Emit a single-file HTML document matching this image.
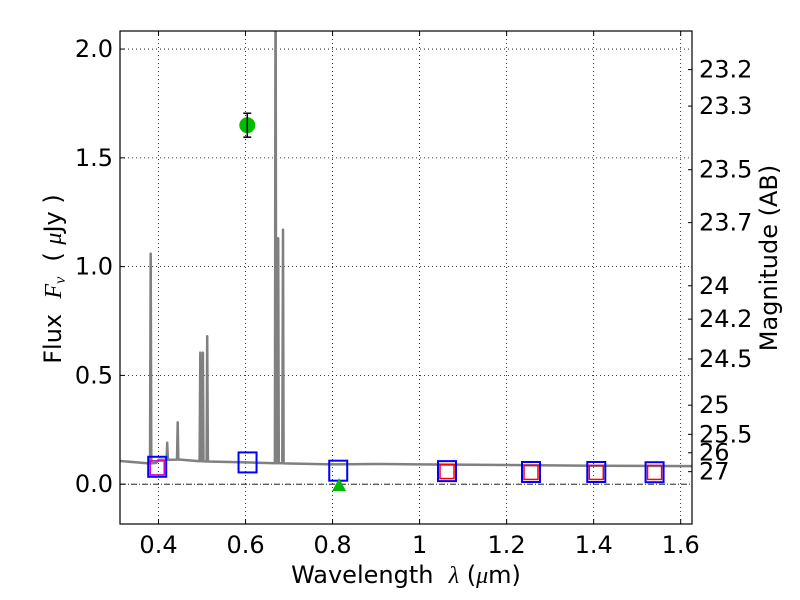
<!DOCTYPE html>
<html><head><meta charset="utf-8"><style>
body{margin:0;background:#fff;}
svg{display:block;font-family:"DejaVu Sans","Liberation Sans",sans-serif;}
</style></head><body>
<svg id="c" width="800" height="600" viewBox="0 0 800 600"></svg>
<script>
const xTicks=[0.4,0.6,0.8,1.0,1.2,1.4,1.6];
const xTickLabels=["0.4","0.6","0.8","1","1.2","1.4","1.6"];
const yTicks=[0,0.5,1.0,1.5,2.0];
const yTickLabels=["0.0","0.5","1.0","1.5","2.0"];
const magTicks=[23.2,23.3,23.5,23.7,24,24.2,24.5,25,25.5,26,27];
const magLabels=["23.2","23.3","23.5","23.7","24","24.2","24.5","25","25.5","26","27"];
const contWave=[0.31,0.35,0.38,0.395,0.40,0.45,0.5,0.6,0.7,0.8,0.9,1.0,1.2,1.4,1.626];
const contFlux=[0.107,0.100,0.095,0.098,0.112,0.113,0.105,0.100,0.095,0.091,0.093,0.091,0.088,0.085,0.083];
const lineWave=[0.382,0.420,0.444,0.496,0.502,0.512,0.669,0.675,0.686];
const lineFlux=[1.06,0.19,0.285,0.605,0.605,0.68,2.6,1.13,1.17];
const obsWave=[0.604];
const obsFlux=[1.65];
const obsErr=[0.055];
const limWave=[0.815];
const limFlux=[0.0];
const modelWave=[0.397,0.6046,0.813,1.063,1.256,1.406,1.54];
const modelFlux=[0.08,0.10,0.062,0.06,0.056,0.056,0.055];
const redWave=[1.063,1.256,1.406,1.54];
const redFlux=[0.058,0.054,0.054,0.054];
const magWave=[0.397];
const magFlux=[0.075];

const L=120,R=692,T=31,B=524;
const X0=0.3115,X1=1.626,Y0=-0.183,Y1=2.083;
const sx=v=>L+(v-X0)/(X1-X0)*(R-L);
const sy=v=>B-(v-Y0)/(Y1-Y0)*(B-T);
const svg=document.getElementById('c');
const NS='http://www.w3.org/2000/svg';
function mk(tag,attrs,parent){const e=document.createElementNS(NS,tag);for(const k in attrs)e.setAttribute(k,attrs[k]);(parent||svg).appendChild(e);return e;}

const clip=mk('clipPath',{id:'pc'});mk('rect',{x:L,y:T,width:R-L,height:B-T},clip);
const grid=mk('g',{});


xTicks.forEach(v=>{const l=mk('line',{x1:sx(v),x2:sx(v),y1:T,y2:B,stroke:'#000','stroke-width':0.8,'stroke-dasharray':'1,3'},grid);

});
yTicks.forEach(v=>{if(v===0)return;const l=mk('line',{x1:L,x2:R,y1:sy(v),y2:sy(v),stroke:'#000','stroke-width':0.8,'stroke-dasharray':'1,3'},grid);

});
const zl=mk('line',{x1:L,x2:R,y1:sy(0),y2:sy(0),stroke:'#000','stroke-width':0.9,'stroke-dasharray':'6,2,1,2'});



let pts=[];
const cont=w=>{for(let i=0;i<contWave.length-1;i++){if(w<=contWave[i+1]){const t=(w-contWave[i])/(contWave[i+1]-contWave[i]);return contFlux[i]+t*(contFlux[i+1]-contFlux[i]);}}return contFlux[contFlux.length-1];};
let events=[];contWave.forEach(w=>events.push({w,f:null}));
lineWave.forEach((w,i)=>{events.push({w:w-0.0015,f:null});events.push({w:w,f:lineFlux[i]});events.push({w:w+0.0015,f:null});});
events.sort((a,b)=>a.w-b.w);
events.forEach(e=>pts.push(sx(e.w).toFixed(1)+','+sy(e.f===null?cont(e.w):e.f).toFixed(1)));
const sp=mk('polyline',{points:pts.join(' '),fill:'none',stroke:'#808080','stroke-width':2.5,'stroke-linejoin':'round','clip-path':'url(#pc)'});



modelWave.forEach((w,i)=>{const r=mk('rect',{x:sx(w)-9,y:sy(modelFlux[i])-10,width:18,height:20,fill:'none',stroke:'#0000ff','stroke-width':2});

});
redWave.forEach((w,i)=>{const r=mk('rect',{x:sx(w)-7,y:sy(redFlux[i])-7,width:14,height:14,fill:'none',stroke:'#ff0000','stroke-width':1.5});

});
magWave.forEach((w,i)=>{const r=mk('rect',{x:sx(w)-7,y:sy(magFlux[i])-7,width:14,height:14,fill:'none',stroke:'#cc00cc','stroke-width':1.5});

});
obsWave.forEach((w,i)=>{const g=mk('g',{});


mk('circle',{cx:sx(w),cy:sy(obsFlux[i]),r:8,fill:'#00bb00'},g);
const ya=sy(obsFlux[i]+obsErr[i]),yb=sy(obsFlux[i]-obsErr[i]);
mk('line',{x1:sx(w),x2:sx(w),y1:ya,y2:yb,stroke:'#000','stroke-width':1.5},g);
mk('line',{x1:sx(w)-4,x2:sx(w)+4,y1:ya,y2:ya,stroke:'#000','stroke-width':1.5},g);
mk('line',{x1:sx(w)-4,x2:sx(w)+4,y1:yb,y2:yb,stroke:'#000','stroke-width':1.5},g);});
limWave.forEach((w,i)=>{const x=sx(w),y=sy(limFlux[i]);const p=mk('polygon',{points:`${x-7},${y+7} ${x+7},${y+7} ${x},${y-6}`,fill:'#00bb00'});

});

const fr=mk('rect',{x:L,y:T,width:R-L,height:B-T,fill:'none',stroke:'#000','stroke-width':1.2});



xTicks.forEach((v,i)=>{mk('line',{x1:sx(v),x2:sx(v),y1:B,y2:B-5,stroke:'#000'});mk('line',{x1:sx(v),x2:sx(v),y1:T,y2:T+5,stroke:'#000'});
const t=mk('text',{x:sx(v),y:553,'font-size':24,'text-anchor':'middle'});t.textContent=xTickLabels[i];

});
yTicks.forEach((v,i)=>{mk('line',{x1:L,x2:L+5,y1:sy(v),y2:sy(v),stroke:'#000'});
const t=mk('text',{x:113,y:sy(v)+8,'font-size':24,'text-anchor':'end'});t.textContent=yTickLabels[i];

});
magTicks.forEach((m,i)=>{const f=Math.pow(10,(23.9-m)/2.5);const y=sy(f);mk('line',{x1:R-4,x2:R,y1:y,y2:y,stroke:'#000'});
const t=mk('text',{x:699,y:y+8,'font-size':24});t.textContent=magLabels[i];

});

const xl=mk('text',{x:406,y:583,'font-size':24,'text-anchor':'middle'});
xl.innerHTML='Wavelength\u00a0\u00a0<tspan font-family="Liberation Serif" font-style="italic">λ</tspan>\u00a0(<tspan font-family="Liberation Serif" font-style="italic">μ</tspan>m)';


const yl=mk('text',{x:0,y:0,'font-size':24,'text-anchor':'middle',transform:'translate(61,279) rotate(-90)'});
yl.innerHTML='Flux\u00a0\u00a0<tspan font-family="Liberation Serif" font-style="italic">F<tspan font-size="16" dy="4">ν</tspan></tspan><tspan dy="-4">\u00a0\u00a0(\u00a0</tspan><tspan font-family="Liberation Serif" font-style="italic">μ</tspan>Jy\u00a0)';


const rl=mk('text',{x:0,y:0,'font-size':24,'text-anchor':'middle',transform:'translate(777,258) rotate(-90)'});
rl.textContent='Magnitude (AB)';


</script>
</body></html>
